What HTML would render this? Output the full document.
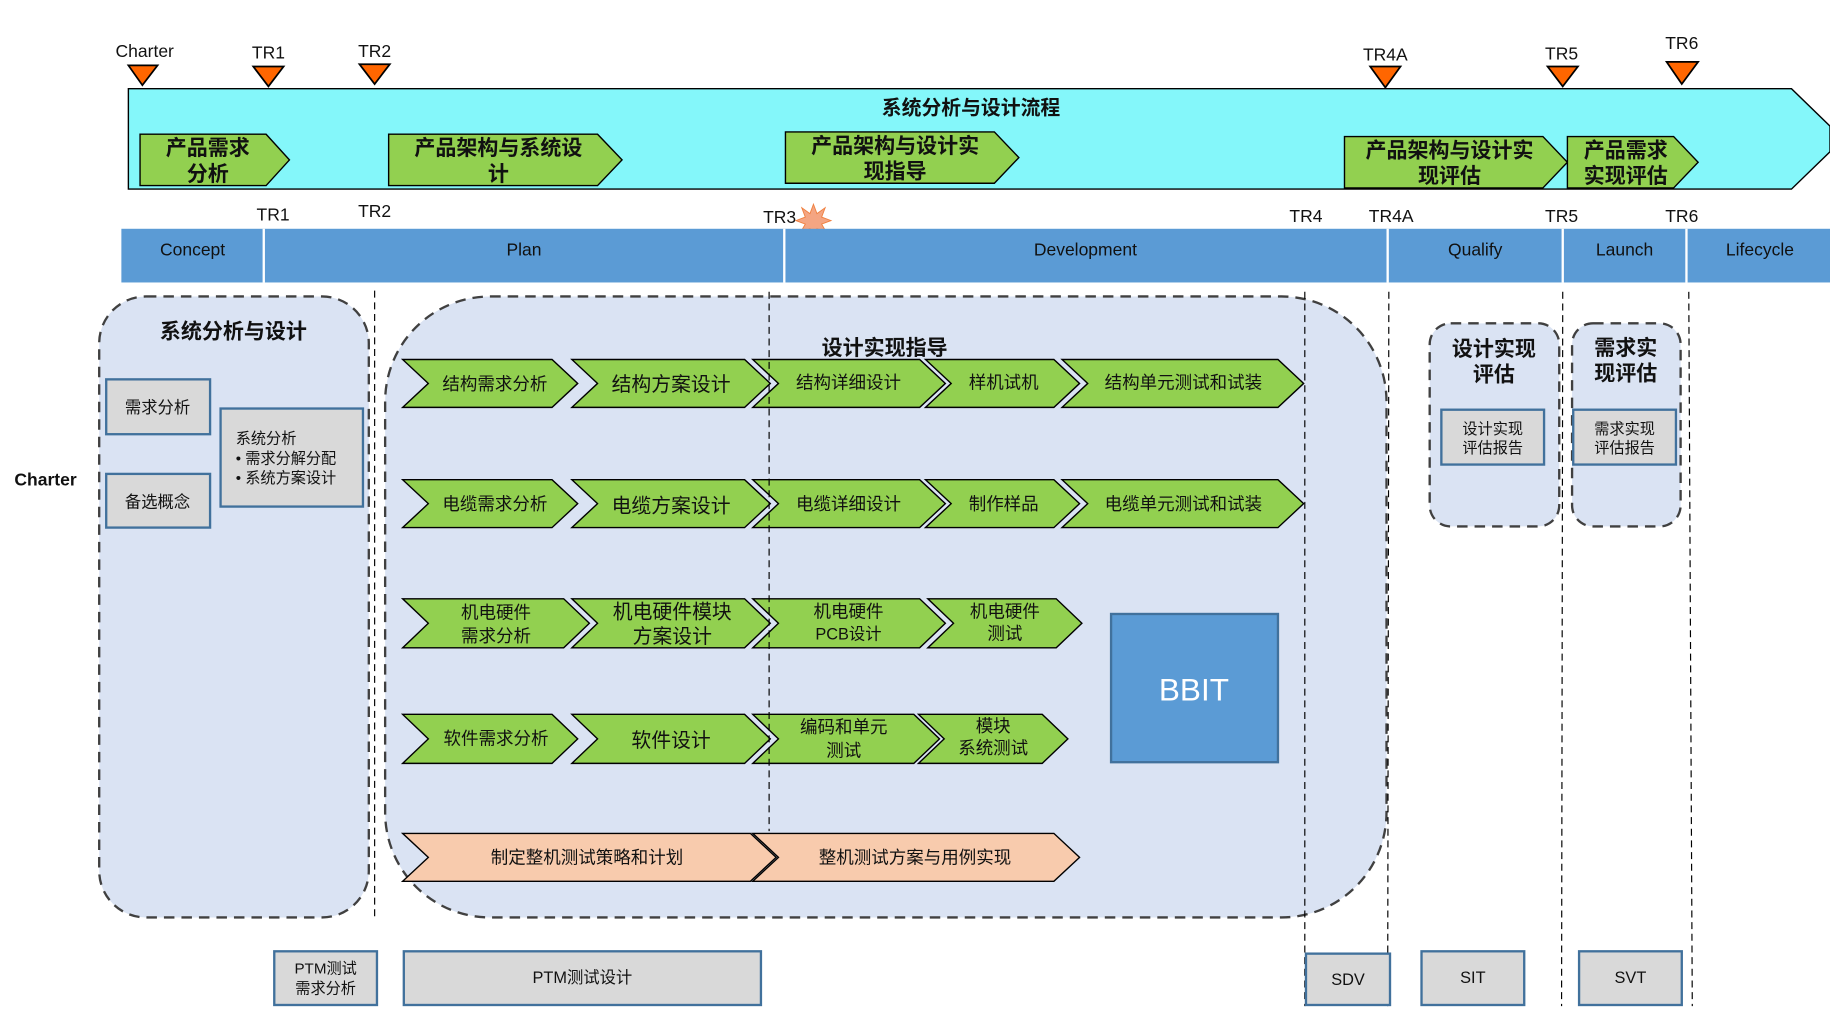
<!DOCTYPE html>
<html><head><meta charset="utf-8"><style>
html,body{margin:0;padding:0;background:#fff;width:1830px;height:1019px;overflow:hidden}
svg{display:block}
text{font-family:"Liberation Sans","Noto Sans CJK SC",sans-serif;fill:#111}
.b{font-weight:bold}
.c{text-anchor:middle}
.ch{fill:#92D050;stroke:#000;stroke-width:1.2}
.or{fill:#F8CBAD;stroke:#000;stroke-width:1.2}
.gb{fill:#D9D9D9;stroke:#41719C;stroke-width:2}
.tri{fill:#FF6600;stroke:#000;stroke-width:1.5}
.dl{stroke:#000;stroke-width:1;stroke-dasharray:6,4;fill:none}
.pn{fill:#DAE3F3;stroke:#404040;stroke-width:2;stroke-dasharray:9,6}
</style></head><body>
<svg width="1830" height="1019" viewBox="0 0 1568 873" preserveAspectRatio="none" xmlns="http://www.w3.org/2000/svg">
<!-- milestones top -->
<text x="124" y="49" class="c" font-size="15">Charter</text>
<polygon class="tri" points="110,56 135,56 122,73"/>
<text x="230" y="50" class="c" font-size="15">TR1</text>
<polygon class="tri" points="217,57 243,57 230,74"/>
<text x="321" y="49" class="c" font-size="15">TR2</text>
<polygon class="tri" points="308,55 334,55 321,72"/>
<text x="1187" y="52" class="c" font-size="15">TR4A</text>
<polygon class="tri" points="1174,57 1200,57 1187,75"/>
<text x="1338" y="51" class="c" font-size="15">TR5</text>
<polygon class="tri" points="1326,57 1352,57 1339,74"/>
<text x="1441" y="42" class="c" font-size="15">TR6</text>
<polygon class="tri" points="1428,53 1455,53 1441,72"/>
<!-- big cyan arrow -->
<polygon points="110,76 1535,76 1568,108 1568,130 1535,162 110,162" fill="#84F7FA" stroke="#000" stroke-width="1.2"/>
<text x="832" y="98" class="c b" font-size="17">系统分析与设计流程</text>
<polygon class="ch" points="120,115 228,115 248,137 228,159 120,159"/>
<text x="178" y="133" class="c b" font-size="18">产品需求</text><text x="178" y="155" class="c b" font-size="18">分析</text>
<polygon class="ch" points="333,115 512,115 533,137 512,159 333,159"/>
<text x="427" y="133" class="c b" font-size="18">产品架构与系统设</text><text x="427" y="155" class="c b" font-size="18">计</text>
<polygon class="ch" points="673,113 852,113 873,135 852,157 673,157"/>
<text x="767" y="131" class="c b" font-size="18">产品架构与设计实</text><text x="767" y="153" class="c b" font-size="18">现指导</text>
<polygon class="ch" points="1152,117 1322,117 1343,139 1322,161 1152,161"/>
<text x="1242" y="135" class="c b" font-size="18">产品架构与设计实</text><text x="1242" y="157" class="c b" font-size="18">现评估</text>
<polygon class="ch" points="1343,117 1434,117 1455,139 1434,161 1343,161"/>
<text x="1393" y="135" class="c b" font-size="18">产品需求</text><text x="1393" y="157" class="c b" font-size="18">实现评估</text>
<!-- TR labels -->
<text x="234" y="189" class="c" font-size="15">TR1</text>
<text x="321" y="186" class="c" font-size="15">TR2</text>
<text x="668" y="191" class="c" font-size="15">TR3</text>
<polygon points="697,175 700,183 707,178 704,186 712,189 704,192 708,199 700,196 697,205 694,196 686,199 690,192 682,189 690,186 687,178 694,183" fill="#F4A582" stroke="#F08040" stroke-width="0.8"/>
<text x="1119" y="190" class="c" font-size="15">TR4</text>
<text x="1192" y="190" class="c" font-size="15">TR4A</text>
<text x="1338" y="190" class="c" font-size="15">TR5</text>
<text x="1441" y="190" class="c" font-size="15">TR6</text>
<!-- phase bar -->
<rect x="104" y="196" width="1464" height="46" fill="#5B9BD5"/>
<g stroke="#fff" stroke-width="2"><line x1="226" y1="196" x2="226" y2="242"/><line x1="672" y1="196" x2="672" y2="242"/><line x1="1189" y1="196" x2="1189" y2="242"/><line x1="1339" y1="196" x2="1339" y2="242"/><line x1="1445" y1="196" x2="1445" y2="242"/></g>
<g font-size="15" class="c"><text x="165" y="219" class="c">Concept</text><text x="449" y="219" class="c">Plan</text><text x="930" y="219" class="c">Development</text><text x="1264" y="219" class="c">Qualify</text><text x="1392" y="219" class="c">Launch</text><text x="1508" y="219" class="c">Lifecycle</text></g>
<text x="39" y="416" class="c b" font-size="15">Charter</text>
<!-- panels -->
<rect class="pn" x="85" y="254" width="231" height="532" rx="40"/>
<text x="200" y="290" class="c b" font-size="18">系统分析与设计</text>
<rect class="gb" x="91" y="325" width="89" height="47"/><text x="135" y="354" class="c" font-size="14">需求分析</text>
<rect class="gb" x="91" y="406" width="89" height="46"/><text x="135" y="435" class="c" font-size="14">备选概念</text>
<rect class="gb" x="189" y="350" width="122" height="84"/>
<text x="202" y="380" font-size="13">系统分析</text>
<text x="202" y="397" font-size="13">• 需求分解分配</text>
<text x="202" y="414" font-size="13">• 系统方案设计</text>
<rect class="pn" x="330" y="254" width="858" height="532" rx="90"/>
<text x="758" y="304" class="c b" font-size="18">设计实现指导</text>
<rect class="pn" x="1225" y="277" width="111" height="174" rx="18"/>
<text x="1280" y="305" class="c b" font-size="18">设计实现</text><text x="1280" y="327" class="c b" font-size="18">评估</text>
<rect class="gb" x="1235" y="351" width="88" height="47"/><text x="1279" y="372" class="c" font-size="13">设计实现</text><text x="1279" y="388" class="c" font-size="13">评估报告</text>
<rect class="pn" x="1347" y="277" width="93" height="174" rx="18"/>
<text x="1393" y="304" class="c b" font-size="18">需求实</text><text x="1393" y="326" class="c b" font-size="18">现评估</text>
<rect class="gb" x="1348" y="351" width="88" height="47"/><text x="1392" y="372" class="c" font-size="13">需求实现</text><text x="1392" y="388" class="c" font-size="13">评估报告</text>
<!-- BBIT -->
<rect x="952" y="526" width="143" height="127" fill="#5B9BD5" stroke="#41719C" stroke-width="2"/>
<text x="1023" y="600" class="c" font-size="27" style="fill:#fff">BBIT</text>
<!-- row1 -->
<polygon class="ch" points="345,308 473,308 495,328.5 473,349 345,349 367,328.5"/>
<polygon class="ch" points="490,308 638,308 660,328.5 638,349 490,349 512,328.5"/>
<polygon class="ch" points="645,308 788,308 810,328.5 788,349 645,349 667,328.5"/>
<polygon class="ch" points="793,308 903,308 925,328.5 903,349 793,349 815,328.5"/>
<polygon class="ch" points="910,308 1095,308 1117,328.5 1095,349 910,349 932,328.5"/>
<g font-size="15"><text x="424" y="334" class="c">结构需求分析</text><text x="575" y="335" class="c" font-size="17">结构方案设计</text><text x="727" y="333" class="c">结构详细设计</text><text x="860" y="333" class="c">样机试机</text><text x="1014" y="333" class="c">结构单元测试和试装</text></g>
<!-- row2 -->
<polygon class="ch" points="345,411 473,411 495,431.5 473,452 345,452 367,431.5"/>
<polygon class="ch" points="490,411 638,411 660,431.5 638,452 490,452 512,431.5"/>
<polygon class="ch" points="645,411 788,411 810,431.5 788,452 645,452 667,431.5"/>
<polygon class="ch" points="793,411 903,411 925,431.5 903,452 793,452 815,431.5"/>
<polygon class="ch" points="910,411 1095,411 1117,431.5 1095,452 910,452 932,431.5"/>
<g font-size="15"><text x="424" y="437" class="c">电缆需求分析</text><text x="575" y="439" class="c" font-size="17">电缆方案设计</text><text x="727" y="437" class="c">电缆详细设计</text><text x="860" y="437" class="c">制作样品</text><text x="1014" y="437" class="c">电缆单元测试和试装</text></g>
<!-- row3 -->
<polygon class="ch" points="345,513 483,513 505,534 483,555 345,555 367,534"/>
<polygon class="ch" points="490,513 638,513 660,534 638,555 490,555 512,534"/>
<polygon class="ch" points="645,513 788,513 810,534 788,555 645,555 667,534"/>
<polygon class="ch" points="795,513 905,513 927,534 905,555 795,555 817,534"/>
<g font-size="15"><text x="425" y="530" class="c">机电硬件</text><text x="425" y="550" class="c">需求分析</text>
<text x="576" y="530" class="c" font-size="17">机电硬件模块</text><text x="576" y="551" class="c" font-size="17">方案设计</text>
<text x="727" y="529" class="c">机电硬件</text><text x="727" y="548" class="c" font-size="14">PCB设计</text>
<text x="861" y="529" class="c">机电硬件</text><text x="861" y="548" class="c">测试</text></g>
<!-- row4 -->
<polygon class="ch" points="345,612 473,612 495,633 473,654 345,654 367,633"/>
<polygon class="ch" points="490,612 638,612 660,633 638,654 490,654 512,633"/>
<polygon class="ch" points="645,612 783,612 805,633 783,654 645,654 667,633"/>
<polygon class="ch" points="787,612 893,612 915,633 893,654 787,654 809,633"/>
<g font-size="15"><text x="425" y="638" class="c">软件需求分析</text><text x="575" y="640" class="c" font-size="17">软件设计</text>
<text x="723" y="628" class="c">编码和单元</text><text x="723" y="648" class="c">测试</text>
<text x="851" y="627" class="c">模块</text><text x="851" y="646" class="c">系统测试</text></g>
<!-- row5 -->
<polygon class="or" points="345,714 643,714 665,734.5 643,755 345,755 367,734.5"/>
<polygon class="or" points="645,714 903,714 925,734.5 903,755 645,755 667,734.5"/>
<g font-size="15"><text x="503" y="740" class="c">制定整机测试策略和计划</text><text x="784" y="740" class="c">整机测试方案与用例实现</text></g>
<!-- dashed lines -->
<line class="dl" x1="321" y1="249" x2="321" y2="786"/>
<line class="dl" x1="659" y1="250" x2="659" y2="712"/>
<line class="dl" x1="1118" y1="250" x2="1118" y2="862"/>
<line class="dl" x1="1190" y1="250" x2="1189" y2="862"/>
<line class="dl" x1="1339" y1="250" x2="1338" y2="862"/>
<line class="dl" x1="1447" y1="250" x2="1450" y2="862"/>
<!-- bottom boxes -->
<rect class="gb" x="235" y="815" width="88" height="46"/><text x="279" y="834" class="c" font-size="13">PTM测试</text><text x="279" y="851" class="c" font-size="13">需求分析</text>
<rect class="gb" x="346" y="815" width="306" height="46"/><text x="499" y="842" class="c" font-size="14">PTM测试设计</text>
<rect class="gb" x="1119" y="817" width="72" height="44"/><text x="1155" y="844" class="c" font-size="14">SDV</text>
<rect class="gb" x="1218" y="815" width="88" height="46"/><text x="1262" y="842" class="c" font-size="14">SIT</text>
<rect class="gb" x="1353" y="815" width="88" height="46"/><text x="1397" y="842" class="c" font-size="14">SVT</text>
</svg>
</body></html>
